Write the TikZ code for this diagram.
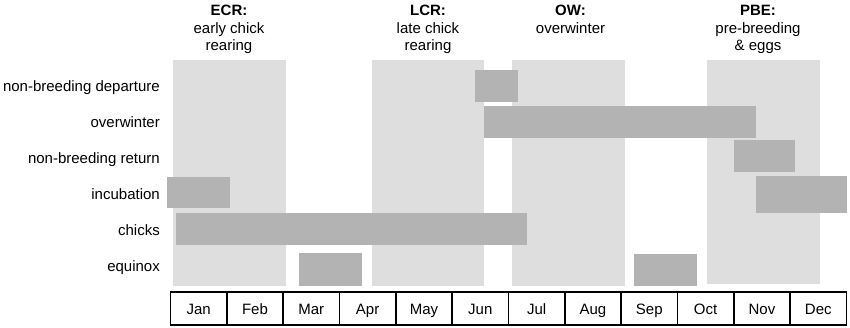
\documentclass[tikz,border=0pt]{standalone}
\usepackage{fontspec}
\setmainfont{Liberation Sans}
\usetikzlibrary{positioning}
\definecolor{phasegray}{RGB}{222,222,222}
\definecolor{bargray}{RGB}{179,179,179}

\begin{document}
\begin{tikzpicture}[x=1pt, y=-1pt,
    font=\fontsize{15}{17.3}\selectfont,
    phase/.style={fill=phasegray},
    bar/.style={fill=bargray},
    rowlabel/.style={anchor=base east, inner sep=0pt},
    phasetitle/.style={anchor=north, inner sep=0pt, align=center},
    monthbox/.style={draw, line width=1.4pt, minimum width=56.33pt, minimum height=33pt,
                     inner sep=0pt, text height=12pt, text depth=0pt}]
  \useasboundingbox (0,0) rectangle (850,328);

  % Phase bands
  \fill[phase] (172.7,60) rectangle (285.7,285.7);
  \fill[phase] (371.7,60) rectangle (484.3,285.5);
  \fill[phase] (512.3,60) rectangle (625,285.5);
  \fill[phase] (707,60) rectangle (820,284);

  % Phase titles
  \node[phasetitle] (ECR) at (229,5.3) {\textbf{ECR:}\\early chick\\rearing};
  \node[phasetitle] (LCR) at (428,5.3) {\textbf{LCR:}\\late chick\\rearing};
  \node[phasetitle] (OW) at (570.5,5.3) {\textbf{OW:}\\overwinter};
  \node[phasetitle] (PBE) at (758,5.3) {\textbf{PBE:}\\pre-breeding\\\& eggs};

  % Row labels
  \node[rowlabel] (depart) at (160,92) {non-breeding departure};
  \node[rowlabel] (winter) at (160,128) {overwinter};
  \node[rowlabel] (return) at (160,164) {non-breeding return};
  \node[rowlabel] (incub) at (160,200) {incubation};
  \node[rowlabel] (chicks) at (160,236) {chicks};
  \node[rowlabel] (equinox) at (160,272) {equinox};

  % Bars
  \fill[bar] (474.7,70) rectangle (517.7,101.7);     % departure
  \fill[bar] (484.3,106) rectangle (756,137.7);      % overwinter
  \fill[bar] (733.7,140.5) rectangle (795.3,172.5);  % return
  \fill[bar] (167.3,176.7) rectangle (230,208);      % incubation
  \fill[bar] (756,176.5) rectangle (846.5,213);
  \fill[bar] (176,213.3) rectangle (526.7,245.3);    % chicks
  \fill[bar] (298.7,253) rectangle (362,285.7);      % equinox
  \fill[bar] (634.3,253.7) rectangle (697.3,286.3);

  % Month axis
  \foreach \mon [count=\i] in {Jan,Feb,Mar,Apr,May,Jun,Jul,Aug,Sep,Oct,Nov,Dec}
    \node[monthbox] (\mon) at ({170.5+(\i-0.5)*56.33},308.5) {\mon};
\end{tikzpicture}
\end{document}
